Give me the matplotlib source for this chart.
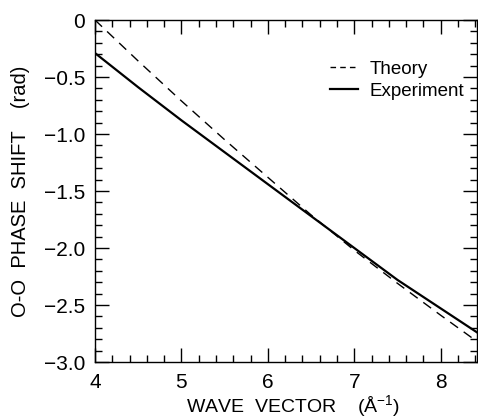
import numpy as np
import matplotlib
matplotlib.use('Agg')
import matplotlib.pyplot as plt
from matplotlib.ticker import MultipleLocator
from matplotlib.lines import Line2D

plt.rcParams['font.family'] = ['Liberation Sans', 'DejaVu Sans']
plt.rcParams['axes.unicode_minus'] = True
plt.rcParams['mathtext.fontset'] = 'custom'
plt.rcParams['mathtext.rm'] = 'Liberation Sans'

# 波矢 / 相移数据
k_theory = [4.0, 4.5, 5.0, 5.5, 6.0, 6.5, 7.0, 7.5, 8.0, 8.42]
phase_theory = [0.0, -0.36, -0.71, -1.05, -1.38, -1.71, -2.02, -2.31, -2.59, -2.82]
k_exp = [4.0, 4.5, 5.0, 5.5, 6.0, 6.5, 7.0, 7.5, 8.0, 8.42]
phase_exp = [-0.29, -0.59, -0.88, -1.16, -1.44, -1.72, -2.0, -2.28, -2.53, -2.74]
y_ticks = [0, -0.5, -1.0, -1.5, -2.0, -2.5, -3.0]
y_ticklabels = ['0', '\u22120.5', '\u22121.0', '\u22121.5', '\u22122.0', '\u22122.5', '\u22123.0']

fig = plt.figure(figsize=(4.78, 4.19), dpi=100)
ax = fig.add_axes([95/478, 1-362/419, (477-95)/478, (362-20)/419])

ax.plot(k_theory, phase_theory, 'k--', lw=1.0, dashes=(7, 5))
ax.plot(k_exp, phase_exp, 'k-', lw=1.6)

ax.set_xlim(4, 8.42)
ax.set_ylim(-3.0, 0)
ax.xaxis.set_major_locator(MultipleLocator(1))
ax.xaxis.set_minor_locator(MultipleLocator(0.2))
ax.yaxis.set_minor_locator(MultipleLocator(0.1))
ax.set_yticks(y_ticks)
ax.set_yticklabels(y_ticklabels)
ax.tick_params(which='both', direction='in', top=True, right=True, labelsize=15, width=1.0)
ax.tick_params(which='major', length=10)
ax.tick_params(which='minor', length=5)
ax.tick_params(axis='x', which='major', pad=8)
ax.tick_params(axis='y', which='major', pad=7)
for s in ax.spines.values():
    s.set_linewidth(1.0)

ax.set_xlabel(r'WAVE  VECTOR    (Å$^{-1}$)', fontsize=14)
ax.xaxis.set_label_coords(0.52, -0.092)
ax.set_ylabel('O-O  PHASE  SHIFT    (rad)', fontsize=14.5, labelpad=10)

# 图例
handles = [Line2D([], [], color='k', lw=1.0, dashes=(4, 3)),
           Line2D([], [], color='k', lw=1.6)]
ax.legend(handles, ['Theory', 'Experiment'], loc='upper right', bbox_to_anchor=(1.01, 0.93),
          frameon=False, fontsize=13.5, handlelength=1.5, handletextpad=0.6, labelspacing=0.25)

fig.savefig('out.png', dpi=100)
